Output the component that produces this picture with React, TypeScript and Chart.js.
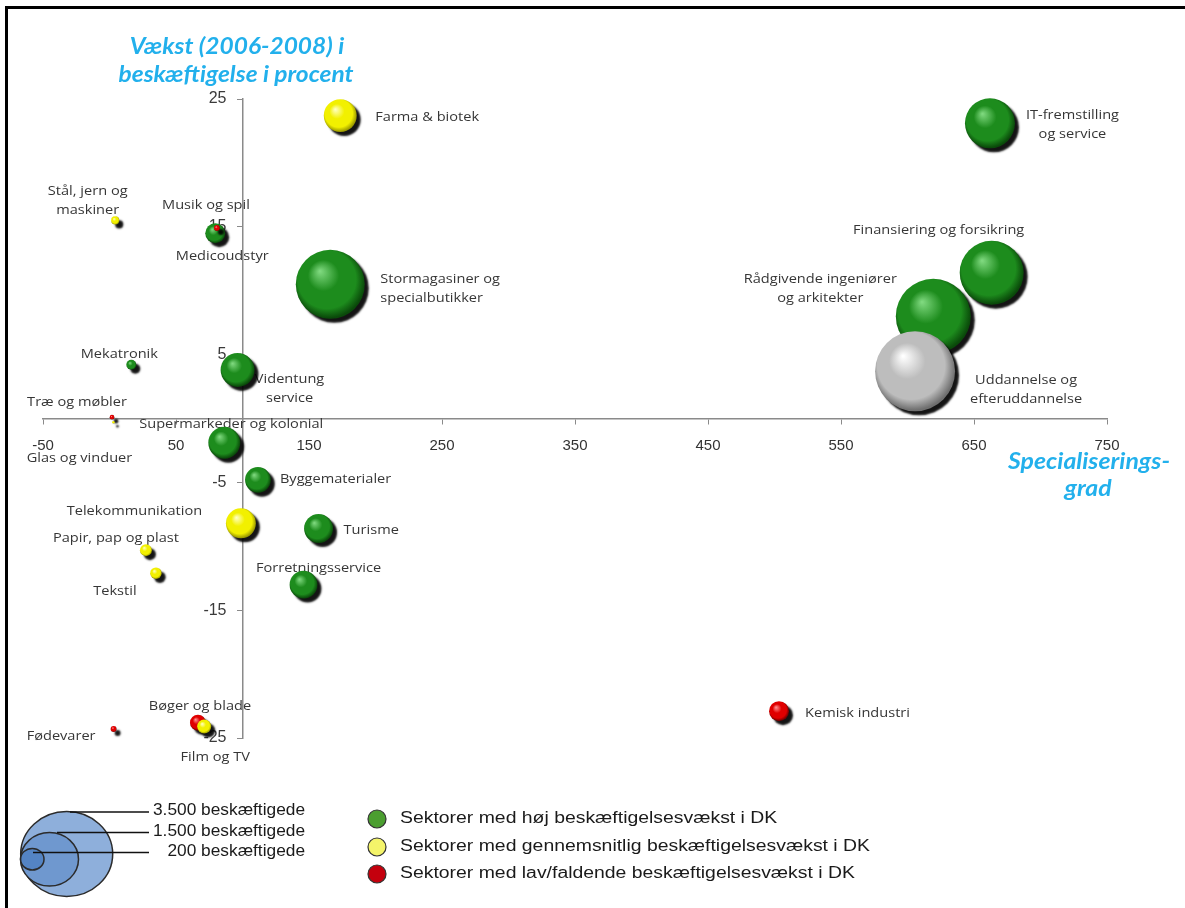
import React, { useEffect, useRef } from "react";
import { Chart, registerables } from "chart.js";

Chart.register(...registerables);

// ---- axis ticks and titles ----
const xTickValues = [-50, 50, 150, 250, 350, 450, 550, 650, 750];
const yTickValues = [-25, -15, -5, 5, 15, 25];
const yAxisTitle = ["Vækst (2006-2008) i", "beskæftigelse i procent"];
const xAxisTitle = ["Specialiserings-", "grad"];

// ---- grey series ----
const greySectors = ["Uddannelse og\nefteruddannelse"];
const greyX = [605.7];
const greyY = [3.7];
const greyEmployed = [2890];

// ---- yellow series: average growth ----
const yellowSectors = [
  "Farma & biotek",
  "Stål, jern og\nmaskiner",
  "Telekommunikation",
  "Papir, pap og plast",
  "Tekstil",
  "Film og TV",
  "Glas og vinduer",
];
const yellowX = [173.5, 4.3, 98.8, 27.4, 34.9, 71.2, 3.0];
const yellowY = [23.7, 15.5, -8.2, -10.3, -12.1, -24.1, -0.3];
const yellowEmployed = [490, 30, 405, 65, 60, 90, 3];

// ---- red series: low / falling growth ----
const redSectors = ["Musik og spil", "Træ og møbler", "Bøger og blade", "Fødevarer", "Kemisk industri"];
const redX = [80.8, 1.9, 66.5, 3.1, 503.4];
const redY = [14.9, 0.1, -23.8, -24.3, -22.9];
const redEmployed = [16, 10, 115, 16, 180];

// ---- green series: high growth ----
const greenSectors = [
  "IT-fremstilling\nog service",
  "Finansiering og forsikring",
  "Rådgivende ingeniører\nog arkitekter",
  "Stormagasiner og\nspecialbutikker",
  "Medicoudstyr",
  "Mekatronik",
  "Videntung\nservice",
  "Supermarkeder og kolonial",
  "Byggematerialer",
  "Turisme",
  "Forretningsservice",
];
const greenX = [662, 663.3, 619.4, 166, 79.5, 16.4, 96.3, 86.3, 111.6, 157.2, 145.9];
const greenY = [23.1, 11.4, 8.0, 10.5, 14.5, 4.2, 3.8, -1.9, -4.8, -8.6, -13.0];
const greenEmployed = [1130, 1850, 2540, 2150, 180, 45, 520, 460, 300, 380, 350];

// ---- legends ----
const sizeLegendLabels = ["3.500 beskæftigede", "1.500 beskæftigede", "200 beskæftigede"];
const colorLegendLabels = [
  "Sektorer med høj beskæftigelsesvækst i DK",
  "Sektorer med gennemsnitlig beskæftigelsesvækst i DK",
  "Sektorer med lav/faldende beskæftigelsesvækst i DK",
];

// ---- label placement (pixel offsets from bubble centre) ----
const labelPlacement: Record<string, [number, number, CanvasTextAlign]> = {
  "Uddannelse og\nefteruddannelse": [111, 18, "center"],
  "Farma & biotek": [35, 2, "left"],
  "Stål, jern og\nmaskiner": [-27.5, -19.5, "center"],
  "Telekommunikation": [-106.5, -12, "center"],
  "Papir, pap og plast": [-30, -12, "center"],
  "Tekstil": [-41, 18, "center"],
  "Film og TV": [11, 31, "center"],
  "Glas og vinduer": [-34, 36, "center"],
  "Musik og spil": [-11, -23, "center"],
  "Træ og møbler": [-35, -15, "center"],
  "Bøger og blade": [2, -17, "center"],
  "Fødevarer": [-52.5, 7.5, "center"],
  "Kemisk industri": [26, 1.5, "left"],
  "IT-fremstilling\nog service": [82.5, 1, "center"],
  "Finansiering og forsikring": [-53, -43, "center"],
  "Rådgivende ingeniører\nog arkitekter": [-113, -28, "center"],
  "Stormagasiner og\nspecialbutikker": [50, 4.5, "left"],
  "Medicoudstyr": [7, 23, "center"],
  "Mekatronik": [-12, -11, "center"],
  "Videntung\nservice": [52, 19, "center"],
  "Supermarkeder og kolonial": [7, -19, "center"],
  "Byggematerialer": [22, -1, "left"],
  "Turisme": [25, 2, "left"],
  "Forretningsservice": [15, -16, "center"],
};

const palettes: Record<string, [string, string, string]> = {
  grey: ["#ffffff", "#bdbdbd", "#6f6f6f"],
  yellow: ["#ffffc0", "#f2f000", "#9c9a00"],
  red: ["#ff9090", "#e00000", "#700000"],
  green: ["#7ed87e", "#1d8c1d", "#0a4a0a"],
};

// bubble area proportional to employment (legend: 3.500 -> ~44 px radius)
const sizeToRadius = (n: number) => 44 * Math.sqrt(n / 3500);

function toPoints(xs: number[], ys: number[], ns: number[]) {
  return xs.map((x, i) => ({ x, y: ys[i], r: sizeToRadius(ns[i]) }));
}

function sphereFill(pal: [string, string, string]) {
  return (c: any) => {
    const chart = c.chart;
    const raw = c.raw;
    if (!raw || !chart.scales || !chart.scales.x || !chart.scales.y) return pal[1];
    const cx = chart.scales.x.getPixelForValue(raw.x);
    const cy = chart.scales.y.getPixelForValue(raw.y);
    if (!isFinite(cx) || !isFinite(cy)) return pal[1];
    const r = Math.max(raw.r, 0.5);
    const g = chart.ctx.createRadialGradient(cx - r * 0.3, cy - r * 0.38, r * 0.02, cx - r * 0.05, cy - r * 0.08, r * 1.05);
    g.addColorStop(0, pal[0]);
    g.addColorStop(0.42, pal[1]);
    g.addColorStop(0.8, pal[1]);
    g.addColorStop(1, pal[2]);
    return g;
  };
}

function drawScaled(ctx: CanvasRenderingContext2D, text: string, x: number, y: number, font: string, color: string, align: CanvasTextAlign, sx: number) {
  ctx.save();
  ctx.font = font;
  ctx.fillStyle = color;
  ctx.textAlign = align;
  ctx.textBaseline = "middle";
  ctx.translate(x, y);
  ctx.scale(sx, 1);
  ctx.fillText(text, 0, 0);
  ctx.restore();
}

function fitScale(ctx: CanvasRenderingContext2D, text: string, font: string, target: number) {
  ctx.save();
  ctx.font = font;
  const w = ctx.measureText(text).width;
  ctx.restore();
  return w > 0 ? target / w : 1;
}

const labelFont = '13.5px "Open Sans", "DejaVu Sans", sans-serif';

const labelsPlugin = {
  id: "bubbleLabels",
  beforeDatasetsDraw(chart: any) {
    const ctx = chart.ctx as CanvasRenderingContext2D;
    chart.data.datasets.forEach((ds: any, di: number) => {
      const meta = chart.getDatasetMeta(di);
      ds.sectors.forEach((name: string, i: number) => {
        const el = meta.data[i];
        if (!el) return;
        const p = labelPlacement[name] || [0, -20, "center"];
        const lines = name.split("\n");
        const lh = 19;
        const y0 = el.y + p[1] - ((lines.length - 1) * lh) / 2;
        lines.forEach((ln, k) => {
          drawScaled(ctx, ln, el.x + p[0], y0 + k * lh, labelFont, "#363636", p[2], 1.08);
        });
      });
    });
    ctx.save();
    ctx.shadowColor = "rgba(0,0,0,0.92)";
    ctx.shadowOffsetX = 4;
    ctx.shadowOffsetY = 4;
    ctx.shadowBlur = 2;
  },
  afterDatasetsDraw(chart: any) {
    chart.ctx.restore();
  },
  afterDraw(chart: any) {
    const ctx = chart.ctx as CanvasRenderingContext2D;
    // frame
    ctx.save();
    ctx.fillStyle = "#000";
    ctx.fillRect(5, 6, 1180, 3);
    ctx.fillRect(5, 6, 3, 902);
    ctx.restore();

    // axis titles
    const titleFont = 'italic bold 22px Lato, "Open Sans", sans-serif';
    const blue = "#22b0ec";
    const s1 = fitScale(ctx, yAxisTitle[1], titleFont, 235);
    drawScaled(ctx, yAxisTitle[0], 237, 47, titleFont, blue, "center", s1);
    drawScaled(ctx, yAxisTitle[1], 236, 75, titleFont, blue, "center", s1);
    const s2 = fitScale(ctx, xAxisTitle[0], titleFont, 162);
    drawScaled(ctx, xAxisTitle[0], 1089, 462, titleFont, blue, "center", s2);
    drawScaled(ctx, xAxisTitle[1], 1088, 489, titleFont, blue, "center", s2);

    // size legend (nested ellipses)
    const ell = [
      { cx: 66.7, cy: 854, rx: 46, ry: 42.5, fill: "#8eafdb" },
      { cx: 49.5, cy: 859.3, rx: 29, ry: 26.7, fill: "#6f98cf" },
      { cx: 32.3, cy: 859.2, rx: 11.7, ry: 10.8, fill: "#5484c4" },
    ];
    ctx.save();
    ell.forEach((e) => {
      ctx.beginPath();
      ctx.ellipse(e.cx, e.cy, e.rx, e.ry, 0, 0, Math.PI * 2);
      ctx.fillStyle = e.fill;
      ctx.fill();
      ctx.lineWidth = 1.5;
      ctx.strokeStyle = "#2b2b2b";
      ctx.stroke();
    });
    const lineYs = [812, 832.5, 852.5];
    const lineX0 = [70, 57, 33];
    ctx.strokeStyle = "#111";
    ctx.lineWidth = 1.5;
    lineYs.forEach((y, i) => {
      ctx.beginPath();
      ctx.moveTo(lineX0[i], y);
      ctx.lineTo(149, y);
      ctx.stroke();
    });
    ctx.restore();
    const legFont = '16px "Liberation Sans Narrow", "Liberation Sans", Arial, sans-serif';
    const s3 = fitScale(ctx, sizeLegendLabels[0], legFont, 152);
    sizeLegendLabels.forEach((t, i) => {
      drawScaled(ctx, t, 305, lineYs[i] - 1, legFont, "#1a1a1a", "right", s3);
    });

    // color legend
    const cols = ["#4b9e30", "#f4f46a", "#c4000d"];
    const rowYs = [819, 847, 874];
    const legFont2 = '16px "Liberation Sans Narrow", "Liberation Sans", Arial, sans-serif';
    const s4 = fitScale(ctx, colorLegendLabels[1], legFont2, 470);
    rowYs.forEach((y, i) => {
      ctx.save();
      ctx.beginPath();
      ctx.arc(377, y, 9, 0, Math.PI * 2);
      ctx.fillStyle = cols[i];
      ctx.fill();
      ctx.lineWidth = 1.2;
      ctx.strokeStyle = "#333";
      ctx.stroke();
      ctx.restore();
      drawScaled(ctx, colorLegendLabels[i], 400, y, legFont2, "#1a1a1a", "left", s4);
    });
  },
};

function makeDataset(sectors: string[], xs: number[], ys: number[], ns: number[], pal: [string, string, string]) {
  return {
    sectors,
    data: toPoints(xs, ys, ns),
    backgroundColor: sphereFill(pal),
    borderWidth: 0,
    borderColor: "rgba(0,0,0,0)",
    hoverRadius: 0,
    clip: false as any,
  } as any;
}

export default function App() {
  const ref = useRef<HTMLCanvasElement>(null);

  useEffect(() => {
    if (!ref.current) return;
    const axisColor = "#8a8a8a";
    const chart = new Chart(ref.current, {
      type: "bubble",
      data: {
        datasets: [
          makeDataset(greySectors, greyX, greyY, greyEmployed, palettes.grey),
          makeDataset(yellowSectors, yellowX, yellowY, yellowEmployed, palettes.yellow),
          makeDataset(redSectors, redX, redY, redEmployed, palettes.red),
          makeDataset(greenSectors, greenX, greenY, greenEmployed, palettes.green),
        ],
      },
      options: {
        animation: false,
        responsive: false,
        devicePixelRatio: 1,
        events: [],
        layout: { padding: { left: 43, right: 78, top: 99, bottom: 170 } },
        plugins: {
          legend: { display: false },
          tooltip: { enabled: false },
          title: { display: false },
        },
        scales: {
          x: {
            type: "linear",
            min: -50,
            max: 750,
            position: { y: 0 } as any,
            afterBuildTicks: (axis: any) => {
              axis.ticks = xTickValues.map((v) => ({ value: v }));
            },
            grid: { display: true, drawOnChartArea: false, drawTicks: true, tickLength: 5, color: axisColor },
            border: { display: true, color: axisColor, width: 1.5 },
            ticks: {
              padding: 13,
              autoSkip: false,
              maxRotation: 0,
              color: "#333333",
              font: { family: '"Liberation Sans Narrow", "Liberation Sans", sans-serif', size: 15 },
            },
          },
          y: {
            type: "linear",
            min: -25,
            max: 25,
            position: { x: 100 } as any,
            afterBuildTicks: (axis: any) => {
              axis.ticks = yTickValues.map((v) => ({ value: v }));
            },
            grid: { display: true, drawOnChartArea: false, drawTicks: true, tickLength: 5, color: axisColor },
            border: { display: true, color: axisColor, width: 1.5 },
            ticks: {
              padding: 8,
              autoSkip: false,
              color: "#3a3a3a",
              font: { family: '"Liberation Sans", Arial, sans-serif', size: 16 },
              callback: (v: any) => String(v) + "\u2002\u2002",
            },
          },
        },
      },
      plugins: [labelsPlugin],
    });
    return () => chart.destroy();
  }, []);

  return (
    <div style={{ position: "absolute", left: 0, top: 0, width: 1185, height: 908, background: "#ffffff" }}>
      <canvas ref={ref} width={1185} height={908} style={{ display: "block", width: 1185, height: 908 }} />
    </div>
  );
}
